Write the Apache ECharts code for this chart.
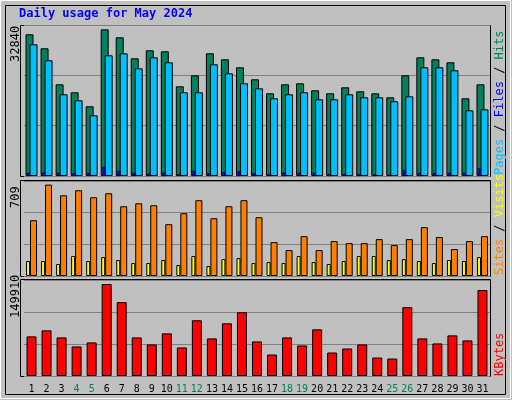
<!DOCTYPE html>
<html><head><meta charset="utf-8">
<script src="https://cdn.jsdelivr.net/npm/echarts@6/dist/echarts.min.js"></script>
<style>html,body{margin:0;padding:0;background:#c0c0c0}#c{width:512px;height:400px}</style>
</head><body><div id="c"></div>
<script>
const days = Array.from({length:31},(_,i)=>String(i+1));
const weekend = ['4','5','11','12','18','19','25','26'];
const hits = [31726,28592,20531,18740,15606,32840,31055,26353,28144,27920,20084,22546,27472,26129,24338,21651,18517,20531,20755,19188,18517,19860,18964,18517,17621,22546,26577,26129,25457,17397,20531];
const files = [29488,25905,18293,16949,13591,27025,27472,24114,26577,25457,18740,18740,25010,22995,20755,19636,17397,18293,18740,17173,17173,18293,17621,17621,16725,17845,24338,24338,23666,14710,14934];
const pages = [746,821,746,597,672,2015,1194,746,522,821,373,1194,597,896,1045,672,373,821,746,746,448,522,448,373,299,1343,746,672,746,746,1791];
const visits = [433,709,626,665,611,642,541,564,549,402,487,588,448,541,588,456,263,201,309,201,271,255,255,286,240,286,379,302,209,271,309];
const sites = [116,116,93,155,116,147,124,101,101,124,85,155,77,131,139,101,108,101,155,108,93,116,155,155,124,131,116,101,124,116,147];
const kbytes = [64558,74406,62917,48145,54710,149910,120362,62917,51427,69482,46504,90819,61275,85895,103949,56351,35014,62917,49786,76047,38297,44862,51427,30091,28449,112156,61275,53069,66199,57993,140058];
const maxLabels = ['32840','709','149910'];

const FONT = 'DejaVu Sans Mono';
const grids = [{left:24,right:22,top:25,height:151},{left:24,right:22,top:181,height:95},{left:24,right:22,top:280,height:96}];
const bs = {borderColor:'#000',borderWidth:1};
function xa(g,show){return {type:'category',data:days,gridIndex:g,show:true,
  axisLine:{show:false},axisTick:{show:false},
  axisLabel:{show:show,interval:0,fontFamily:FONT,fontSize:10,margin:8,
    color:(v)=>weekend.includes(v)?'#00805c':'#000'}};}
function ya(g,max){return {type:'value',gridIndex:g,min:0,max:max,interval:max/3,
  axisLabel:{show:false},axisLine:{show:false},axisTick:{show:false},
  splitLine:{lineStyle:{color:'#808080',width:1}}};}
const opt = {
  backgroundColor:'#c0c0c0',animation:false,
  grid:grids,
  xAxis:[xa(0,false),xa(0,false),xa(1,false),xa(2,true)],
  yAxis:[ya(0,33810),ya(1,737),ya(2,156471)],
  series:[
    {type:'bar',xAxisIndex:0,yAxisIndex:0,data:hits,barWidth:8,barGap:'-50%',itemStyle:{color:'#00805c',...bs}},
    {type:'bar',xAxisIndex:0,yAxisIndex:0,data:files,barWidth:8,itemStyle:{color:'#00bfff',...bs}},
    {type:'bar',xAxisIndex:1,yAxisIndex:0,data:pages,barWidth:3,barGap:0,z:5,itemStyle:{color:'#0000ff',borderColor:'#000',borderWidth:0.5}},
    {type:'bar',xAxisIndex:1,yAxisIndex:0,data:pages.map(()=>0),barWidth:6,itemStyle:{color:'transparent'}},
    {type:'bar',xAxisIndex:2,yAxisIndex:1,data:sites,barWidth:4,barGap:0,itemStyle:{color:'#ffff00',...bs}},
    {type:'bar',xAxisIndex:2,yAxisIndex:1,data:visits,barWidth:7,itemStyle:{color:'#ff8000',...bs}},
    {type:'bar',xAxisIndex:3,yAxisIndex:2,data:kbytes,barWidth:10,itemStyle:{color:'#ff0000',...bs}}
  ],
  graphic:[
    {type:'rect',shape:{x:0.5,y:0.5,width:510,height:398},style:{fill:'none',stroke:'#fff',lineWidth:1},silent:true},
    {type:'rect',shape:{x:5.5,y:5.5,width:500,height:389},style:{fill:'none',stroke:'#000',lineWidth:1},silent:true},
    {type:'rect',shape:{x:20.5,y:25.5,width:470,height:151},style:{fill:'none',stroke:'#000',lineWidth:1},silent:true},
    {type:'rect',shape:{x:20.5,y:180.5,width:470,height:96},style:{fill:'none',stroke:'#000',lineWidth:1},silent:true},
    {type:'rect',shape:{x:20.5,y:279.5,width:470,height:97},style:{fill:'none',stroke:'#000',lineWidth:1},silent:true},
    {type:'text',left:19,top:8,style:{text:'Daily usage for May 2024',fill:'#0000ff',font:'bold 12px '+FONT}},
    {type:'text',x:10,y:62,rotation:Math.PI/2,style:{text:maxLabels[0],fill:'#000',font:'12px '+FONT}},
    {type:'text',x:10,y:208,rotation:Math.PI/2,style:{text:maxLabels[1],fill:'#000',font:'12px '+FONT}},
    {type:'text',x:10,y:318,rotation:Math.PI/2,style:{text:maxLabels[2],fill:'#000',font:'12px '+FONT}},
    {type:'text',x:494,y:175,rotation:Math.PI/2,style:{rich:{p:{fill:'#00bfff',font:'12px '+FONT},s:{fill:'#000',font:'12px '+FONT},f:{fill:'#0000ff',font:'12px '+FONT},h:{fill:'#00805c',font:'12px '+FONT}},text:'{p|Pages}{s| / }{f|Files}{s| / }{h|Hits}'}},
    {type:'text',x:494,y:275,rotation:Math.PI/2,style:{rich:{a:{fill:'#ff8000',font:'12px '+FONT},s:{fill:'#000',font:'12px '+FONT},v:{fill:'#ffff00',font:'12px '+FONT}},text:'{a|Sites}{s| / }{v|Visits}'}},
    {type:'text',x:494,y:376,rotation:Math.PI/2,style:{text:'KBytes',fill:'#ff0000',font:'12px '+FONT}}
  ]
};
echarts.init(document.getElementById('c')).setOption(opt);
</script></body></html>
